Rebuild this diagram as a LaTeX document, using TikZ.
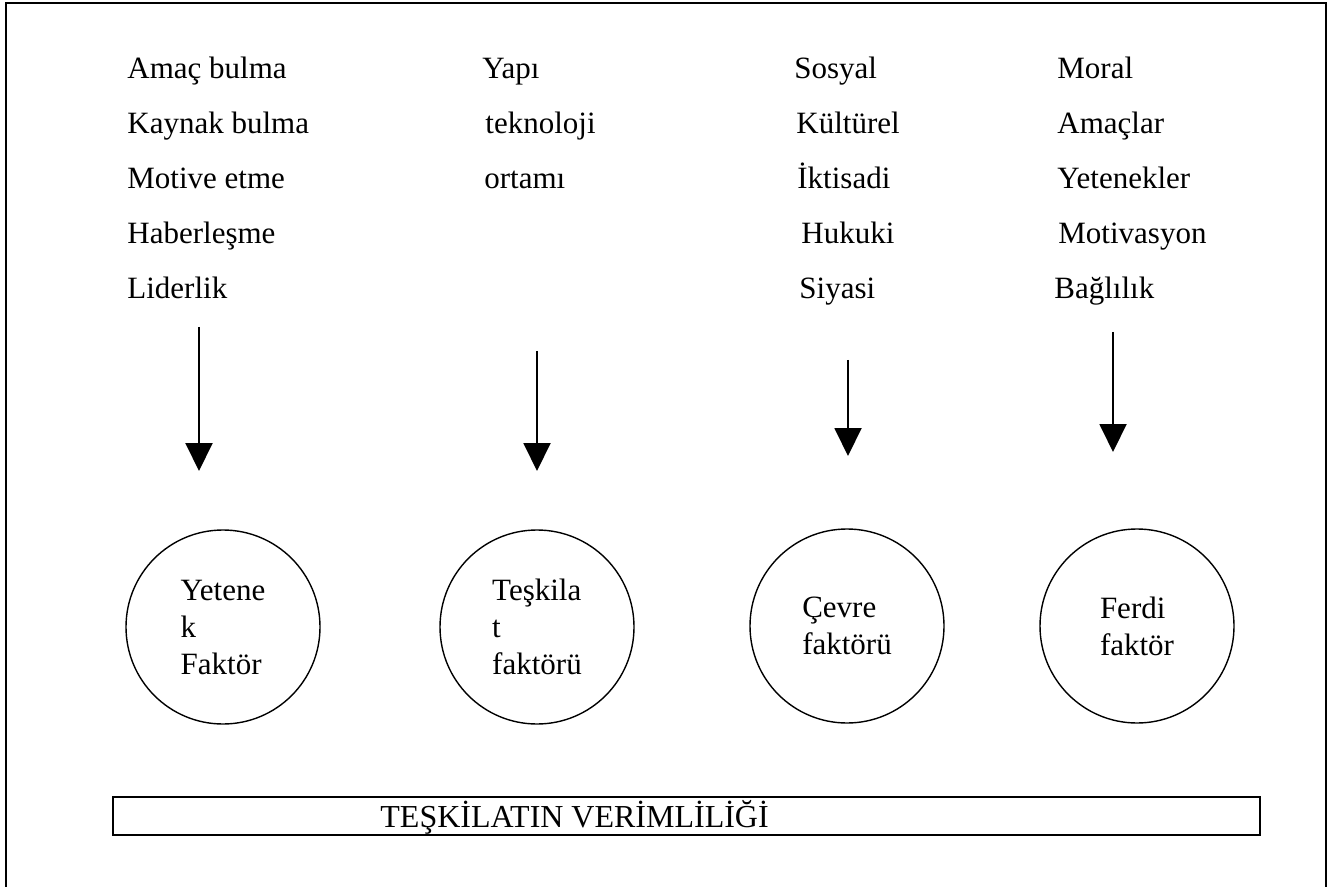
\documentclass[tikz,border=0pt]{standalone}
\usepackage{fontspec}
\setmainfont{Liberation Serif}
\usetikzlibrary{arrows.meta,positioning}

\begin{document}
\begin{tikzpicture}[x=0.5pt, y=-0.5pt,
    item/.style={anchor=base west, inner sep=0pt, font=\fontsize{15.5}{18}\selectfont},
    factor/.style={draw, circle, minimum size=97pt, inner sep=0pt, line width=0.7pt,
        align=left, font=\fontsize{15.5}{18.5}\selectfont},
    flow/.style={line width=1pt, -{Triangle[length=14pt, width=13.5pt]}}]
    \useasboundingbox (0,0) rectangle (1332,887);
    \draw[line width=1pt] (6,900) -- (6,3) -- (1326,3) -- (1326,900);

    \node[item] (amac) at (127,79) {Amaç bulma};
    \node[item] (kaynak) at (127,134) {Kaynak bulma};
    \node[item] (motive) at (127,189) {Motive etme};
    \node[item] (haber) at (127,244) {Haberleşme};
    \node[item] (lider) at (127,299) {Liderlik};

    \node[item] (yapi) at (482,79) {Yapı};
    \node[item] (tekno) at (485,134) {teknoloji};
    \node[item] (ortam) at (484,189) {ortamı};

    \node[item] (sosyal) at (794,79) {Sosyal};
    \node[item] (kultur) at (796,134) {Kültürel};
    \node[item] (iktisat) at (797,189) {İktisadi};
    \node[item] (hukuk) at (801,244) {Hukuki};
    \node[item] (siyasi) at (799,299) {Siyasi};

    \node[item] (moral) at (1057,79) {Moral};
    \node[item] (amaclar) at (1057,134) {Amaçlar};
    \node[item] (yetenek) at (1057,189) {Yetenekler};
    \node[item] (motiv) at (1058,244) {Motivasyon};
    \node[item] (bagli) at (1054,299) {Bağlılık};

    \coordinate (s1) at (199,327);
    \coordinate (e1) at (199,471);
    \coordinate (s2) at (537,351);
    \coordinate (e2) at (537,471);
    \coordinate (s3) at (848,360);
    \coordinate (e3) at (848,456);
    \coordinate (s4) at (1113,332);
    \coordinate (e4) at (1113,452);
    \draw[flow] (s1) -- (e1);
    \draw[flow] (s2) -- (e2);
    \draw[flow] (s3) -- (e3);
    \draw[flow] (s4) -- (e4);

    \node[factor] (yf) at (223,627) {Yetene\\k\\Faktör};
    \node[factor] (tf) at (537,627) {Teşkila\\t\\faktörü};
    \node[factor] (cf) at (847,626) {Çevre\\faktörü};
    \node[factor] (ff) at (1137,626) {Ferdi\\faktör};

    \node[draw, line width=1pt, anchor=north west, minimum width=573.5pt, minimum height=19pt] (verim) at (112,796) {};
    \node[anchor=base west, inner sep=0pt, font=\fontsize{16}{19}\selectfont] (verimtxt) at (380,827) {TEŞKİLATIN VERİMLİLİĞİ};
\end{tikzpicture}
\end{document}
